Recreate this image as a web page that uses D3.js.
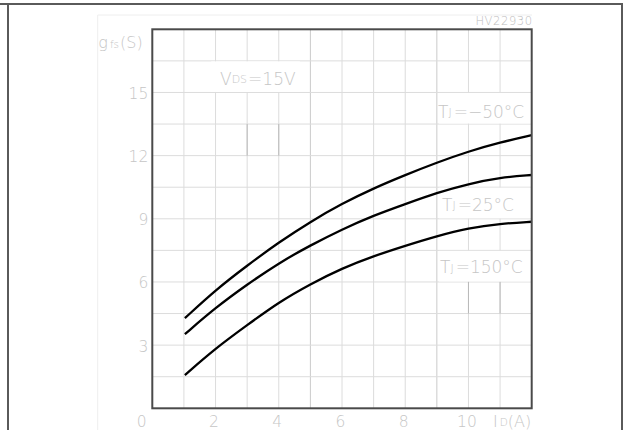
<!DOCTYPE html>
<html>
<head>
<meta charset="utf-8">
<script src="https://cdn.jsdelivr.net/npm/d3@7"></script>
<style>
html,body{margin:0;padding:0;background:#fff;}
svg{display:block;font-family:'DejaVu Sans',sans-serif;}
svg text{font-weight:200;}
</style>
</head>
<body>
<svg id="chart" width="625" height="430"></svg>
<script>
// ---- data ----
const idValues = [1.03, 2, 3, 4, 5, 6, 7, 8, 9, 10, 11, 12];
const gfsMinus50 = [4.28, 5.62, 6.78, 7.88, 8.86, 9.72, 10.45, 11.08, 11.67, 12.20, 12.63, 12.97];
const gfs25 = [3.52, 4.78, 5.88, 6.90, 7.74, 8.50, 9.16, 9.70, 10.24, 10.66, 10.96, 11.08];
const gfs150 = [1.58, 2.85, 3.95, 5.04, 5.90, 6.65, 7.23, 7.72, 8.18, 8.56, 8.77, 8.86];
const seriesNames = ["\u221250", "25", "150"];
const xTickValues = [2, 4, 6, 8, 10];
const yTickValues = [3, 6, 9, 12, 15];
const xDomain = [0, 12];
const yDomain = [0, 18];

const svg = d3.select("#chart");
const L = 152.3, R = 531.7, T = 29.3, B = 408.3;
const x = d3.scaleLinear().domain(xDomain).range([L, R]);
const y = d3.scaleLinear().domain(yDomain).range([B, T]);

// outer frame
const frame = svg.append("g").attr("stroke", "#5a5a5a").attr("stroke-width", 2).attr("fill", "none");
frame.append("path").attr("d", "M0,4H622V430");
frame.append("path").attr("d", "M8,4V430");

// faint inner box
svg.append("path").attr("d", "M97.7,430V15H532").attr("fill", "none")
  .attr("stroke", "#eeeeee").attr("stroke-width", 1);

// grid
const grid = svg.append("g");
const vGrid = d3.range(1, 12);
const hGrid = d3.range(1.5, 18, 1.5);
grid.selectAll("line.v").data(vGrid).join("line")
  .attr("x1", d => x(d)).attr("x2", d => x(d)).attr("y1", T).attr("y2", B)
  .attr("stroke", d => (d === 5 || d === 9) ? "#cacaca" : "#dcdcdc").attr("stroke-width", 1);
grid.selectAll("line.h").data(hGrid).join("line")
  .attr("x1", L).attr("x2", R).attr("y1", d => y(d)).attr("y2", d => y(d))
  .attr("stroke", "#dcdcdc").attr("stroke-width", 1);
// darker scan segments
[[3, 12, 13.5], [4, 12, 13.5], [10, 4.5, 6], [11, 4.5, 6]].forEach(s => {
  grid.append("line").attr("x1", x(s[0])).attr("x2", x(s[0]))
    .attr("y1", y(s[2])).attr("y2", y(s[1])).attr("stroke", "#b8b8b8").attr("stroke-width", 1);
});

// label background boxes (hide grid)
const boxes = [
  {x0: 1.85, x1: 4.7, s0: 16.5, s1: 15},
  {x0: 9.05, x1: 12, s0: 15, s1: 13.5},
  {x0: 9.05, x1: 12, s0: 10.5, s1: 9},
  {x0: 9.05, x1: 12, s0: 7.5, s1: 6}
];
svg.selectAll("rect.bg").data(boxes).join("rect")
  .attr("x", d => x(d.x0) + 0.5).attr("y", d => y(d.s0) + 0.5)
  .attr("width", d => x(d.x1) - x(d.x0) - 1.5).attr("height", d => y(d.s1) - y(d.s0) - 1)
  .attr("fill", "#fff");

// curves
const line = d3.line().x(d => x(d[0])).y(d => y(d[1])).curve(d3.curveBasis);
[gfsMinus50, gfs25, gfs150].forEach(vals => {
  const pts = idValues.map((v, i) => [v, vals[i]]);
  // repeat endpoints so the basis spline passes through the ends
  const ext = [pts[0], ...pts, pts[pts.length - 1]];
  svg.append("path").datum(ext)
    .attr("d", line).attr("fill", "none").attr("stroke", "#000").attr("stroke-width", 2.3);
});

// plot border
svg.append("rect").attr("x", L).attr("y", T).attr("width", R - L).attr("height", B - T)
  .attr("fill", "none").attr("stroke", "#4a4a4a").attr("stroke-width", 2);

const txtColor = "#c6c6c6";
// x tick labels
svg.append("g").selectAll("text").data(xTickValues).join("text")
  .attr("x", d => x(d) - 1.5).attr("y", 427.3).attr("text-anchor", "middle")
  .attr("font-size", 15.5).attr("fill", txtColor).text(d => d);
// "0"
svg.append("text").attr("x", 141.7).attr("y", 426.5).attr("text-anchor", "middle")
  .attr("font-size", 15.5).attr("fill", txtColor).text("0");
// y tick labels
svg.append("g").selectAll("text").data(yTickValues).join("text")
  .attr("x", 148.3).attr("y", d => y(d) + 6.5).attr("text-anchor", "end")
  .attr("font-size", 15.5).attr("fill", txtColor).text(d => d);

// axis titles
const yt = svg.append("text").attr("x", 98.3).attr("y", 47.7).attr("font-size", 16).attr("fill", txtColor);
yt.append("tspan").text("g");
yt.append("tspan").attr("font-size", 10.5).attr("dx", 2).text("fs");
yt.append("tspan").attr("dx", 1).text("(S)");

const xt = svg.append("text").attr("x", 493).attr("y", 427).attr("font-size", 16).attr("fill", txtColor);
xt.append("tspan").text("I");
xt.append("tspan").attr("font-size", 10.5).attr("dx", 2).attr("dy", -1).text("D");
xt.append("tspan").attr("dy", 1).text("(A)");

// VDS label
const vds = svg.append("text").attr("x", 220).attr("y", 85).attr("font-size", 17).attr("fill", txtColor);
vds.append("tspan").text("V");
vds.append("tspan").attr("font-size", 11).attr("dy", -2.5).text("DS");
vds.append("tspan").attr("dy", 2.5).attr("dx", 1).text("=15V");

// temperature labels
const tPos = [{x: 438, y: 117.7}, {x: 442, y: 210.7}, {x: 440, y: 273.3}];
seriesNames.forEach((nm, i) => {
  const p = tPos[i];
  const t = svg.append("text").attr("x", p.x).attr("y", p.y).attr("font-size", 17).attr("fill", txtColor);
  t.append("tspan").text("T");
  t.append("tspan").attr("font-size", 11).attr("dy", -1.5).text("J");
  t.append("tspan").attr("dy", 1.5).attr("dx", 2).text("=" + nm + "\u00B0C");
});

// code label
svg.append("text").attr("x", 532.7).attr("y", 25).attr("text-anchor", "end")
  .attr("font-size", 11.5).attr("fill", "#bdbdbd").attr("letter-spacing", 0.6).text("HV22930");
</script>
</body>
</html>
